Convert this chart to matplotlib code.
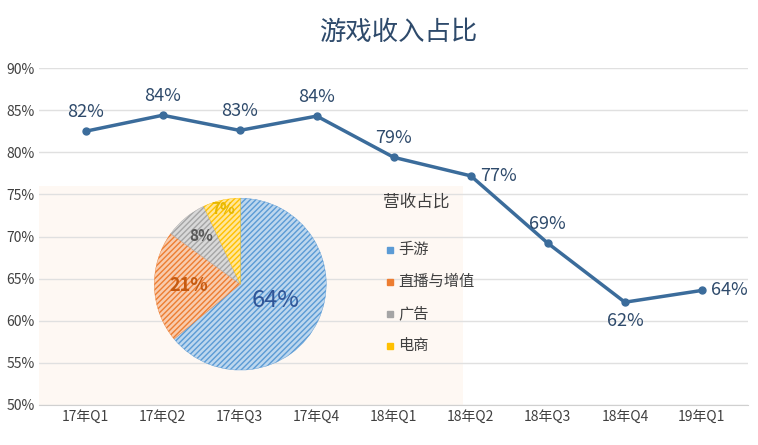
import numpy as np
import matplotlib.pyplot as plt
from matplotlib.patches import Rectangle

plt.rcParams['font.family'] = ['Noto Sans CJK SC', 'DejaVu Sans']

quarters = ['17年Q1', '17年Q2', '17年Q3', '17年Q4', '18年Q1', '18年Q2', '18年Q3', '18年Q4', '19年Q1']
share = [82.5, 84.4, 82.6, 84.3, 79.4, 77.2, 69.2, 62.2, 63.6]
share_labels = ['82%', '84%', '83%', '84%', '79%', '77%', '69%', '62%', '64%']
label_pos = ['above', 'above', 'above', 'above', 'above', 'right', 'above', 'below', 'right']

pie_names = ['手游', '直播与增值', '广告', '电商']
pie_vals = [64, 21, 8, 7]
pie_colors = ['#BDD7EE', '#F8CBAD', '#D9D9D9', '#FFE699']
pie_edges = ['#5B9BD5', '#ED7D31', '#A5A5A5', '#FFC000']
pie_text = ['#2F5597', '#C55A11', '#595959', '#E6B800']

fig = plt.figure(figsize=(7.58, 4.45), dpi=100)
ax = fig.add_axes([0.052, 0.09, 0.935, 0.757])
x = np.arange(len(quarters))
line_c = '#3B6C9B'

# faint background behind the pie
ax.add_patch(Rectangle((-0.6, 50), 5.5, 26, color='#FEF8F3', zorder=0, lw=0))

ax.plot(x, share, color=line_c, lw=2.5, marker='o', ms=5, zorder=3)
for xi, yi, t, p in zip(x, share, share_labels, label_pos):
    if p == 'above':
        ax.text(xi, yi + 1.2, t, ha='center', va='bottom', fontsize=13, color='#2E4A6B')
    elif p == 'below':
        ax.text(xi, yi - 1.2, t, ha='center', va='top', fontsize=13, color='#2E4A6B')
    else:
        ax.text(xi + 0.12, yi, t, ha='left', va='center', fontsize=13, color='#2E4A6B')

ax.set_xlim(-0.6, 8.6)
ax.set_ylim(50, 90)
ax.set_yticks(range(50, 91, 5))
ax.set_yticklabels([f'{v}%' for v in range(50, 91, 5)], fontsize=10, color='#404040')
ax.set_xticks(x)
ax.set_xticklabels(quarters, fontsize=10, color='#404040')
ax.grid(axis='y', color='#E0E0E0', lw=1)
ax.set_axisbelow(True)
ax.tick_params(length=0)
for s in ax.spines.values():
    s.set_visible(False)
ax.spines['bottom'].set_visible(True)
ax.spines['bottom'].set_color('#D0D0D0')

fig.text(0.525, 0.91, '游戏收入占比', ha='center', fontsize=19, color='#2E4A6B')

# inset pie
pax = fig.add_axes([0.175, 0.12, 0.284, 0.483])
wedges, _ = pax.pie(pie_vals, colors=pie_colors, startangle=90, counterclock=False,
                    wedgeprops=dict(lw=1, edgecolor='white'))
for w, ec in zip(wedges, pie_edges):
    w.set_hatch('//////')
    w.set_edgecolor(ec)
    w.set_linewidth(0.3)
rs = [0.45, 0.6, 0.72, 0.9]
sizes = [17, 13, 11, 11]
for w, v, r, c, sz in zip(wedges, pie_vals, rs, pie_text, sizes):
    mid = np.deg2rad((w.theta1 + w.theta2) / 2)
    pax.text(r * np.cos(mid), r * np.sin(mid), f'{v}%', ha='center', va='center',
             fontsize=sz, color=c, fontweight='bold' if v < 60 else 'normal')
pax.set_aspect('equal')

fig.text(0.505, 0.535, '营收占比', fontsize=12, color='#404040')
for i, (n, c) in enumerate(zip(pie_names, pie_edges)):
    yy = 0.44 - i * 0.072
    fig.add_artist(Rectangle((0.51, yy - 0.008), 0.008, 0.014, color=c, transform=fig.transFigure))
    fig.text(0.525, yy, n, fontsize=11, color='#404040', va='center')

fig.savefig('out.png', dpi=100)
